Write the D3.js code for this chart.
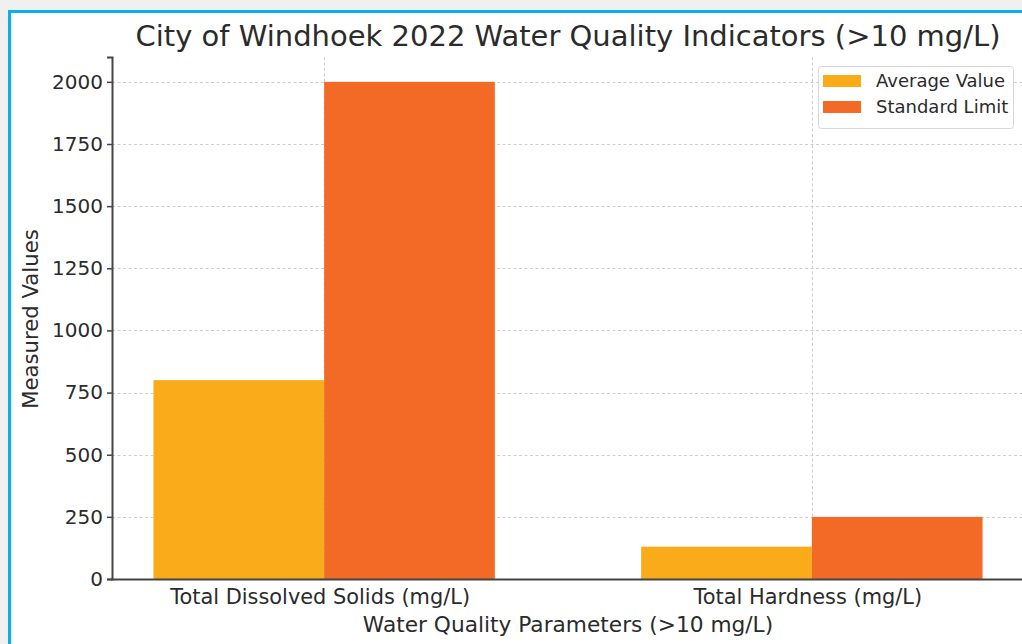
<!DOCTYPE html>
<html>
<head>
<meta charset="utf-8">
<script src="https://cdn.jsdelivr.net/npm/d3@7"></script>
<style>
  html, body { margin: 0; padding: 0; background: #f0f0f0; }
  svg { display: block; font-family: "DejaVu Sans", sans-serif; }
</style>
</head>
<body>
<svg id="chart" width="1022" height="644"></svg>
<script>
// 数据
const categories = ['Total Dissolved Solids (mg/L)', 'Total Hardness (mg/L)'];
const seriesNames = ['Average Value', 'Standard Limit'];
const averageValues = [800, 130];
const standardLimits = [2000, 250];
const yTicks = [0, 250, 500, 750, 1000, 1250, 1500, 1750, 2000];
const colors = ['#f9ab1a', '#f26a25'];

const W = 1022, H = 644;
const svg = d3.select('#chart');

// 外框（截图边框）
svg.append('rect').attr('x', 9.5).attr('y', 11.5).attr('width', W + 20).attr('height', H + 20)
  .attr('fill', '#fff').attr('stroke', '#0aaeee').attr('stroke-width', 3);

const barW = 0.35;
const x = d3.scaleLinear().domain([-0.435, 1.435]).range([112, 1024]);
const y = d3.scaleLinear().domain([0, 2100]).range([579, 57]);

// 网格
const grid = svg.append('g').attr('stroke', '#cfcfcf').attr('stroke-width', 1).attr('stroke-dasharray', '3,2.5');
grid.selectAll('line.h').data(yTicks).enter().append('line')
  .attr('x1', x.range()[0]).attr('x2', x.range()[1])
  .attr('y1', (d) => Math.round(y(d)) + 0.5).attr('y2', (d) => Math.round(y(d)) + 0.5);
grid.selectAll('line.v').data(categories).enter().append('line')
  .attr('x1', (_, i) => Math.round(x(i)) + 0.5).attr('x2', (_, i) => Math.round(x(i)) + 0.5)
  .attr('y1', y.range()[1]).attr('y2', y.range()[0]);

// 柱
const series = [averageValues, standardLimits];
series.forEach((vals, s) => {
  svg.append('g').selectAll('rect').data(vals).enter().append('rect')
    .attr('x', (_, i) => x(i + (s === 0 ? -barW : 0)))
    .attr('width', x(barW) - x(0))
    .attr('y', (d) => y(d))
    .attr('height', (d) => y(0) - y(d))
    .attr('fill', colors[s]);
});

// y 轴
const yAxis = svg.append('g').attr('transform', 'translate(112,0)')
  .call(d3.axisLeft(y).tickValues(yTicks).tickSize(5).tickPadding(4).tickFormat(d3.format('d')));
yAxis.select('.domain').attr('stroke', '#444').attr('stroke-width', 2);
yAxis.selectAll('.tick line').attr('stroke', '#444').attr('stroke-width', 1.5);
yAxis.selectAll('text').attr('font-size', 20).attr('fill', '#2b2b2b').attr('font-family', 'DejaVu Sans');

// x 轴
svg.append('line').attr('x1', 111).attr('x2', 1024).attr('y1', 579.5).attr('y2', 579.5)
  .attr('stroke', '#444').attr('stroke-width', 2);
svg.selectAll('text.xt').data(categories).enter().append('text')
  .attr('class', 'xt').attr('x', (_, i) => x(i) - 4).attr('y', 604)
  .attr('text-anchor', 'middle').attr('font-size', 20.9).attr('fill', '#2b2b2b')
  .text((d) => d);

// 轴标题
svg.append('text').attr('x', 568).attr('y', 632).attr('text-anchor', 'middle')
  .attr('font-size', 21.7).attr('fill', '#2b2b2b').text('Water Quality Parameters (>10 mg/L)');
svg.append('text').attr('transform', 'translate(38,319) rotate(-90)').attr('text-anchor', 'middle')
  .attr('font-size', 21.2).attr('fill', '#2b2b2b').text('Measured Values');

// 标题
svg.append('text').attr('x', 568).attr('y', 46).attr('text-anchor', 'middle')
  .attr('font-size', 29).attr('fill', '#2b2b2b').text('City of Windhoek 2022 Water Quality Indicators (>10 mg/L)');

// 图例
const legend = svg.append('g').attr('transform', 'translate(818,66)');
legend.append('rect').attr('x', 0.5).attr('y', 0.5).attr('width', 195).attr('height', 62).attr('rx', 3)
  .attr('fill', '#fff').attr('fill-opacity', 0.85).attr('stroke', '#d8d8d8');
seriesNames.forEach((name, i) => {
  const row = legend.append('g').attr('transform', `translate(5,${9 + i * 26})`);
  row.append('rect').attr('width', 38).attr('height', 12).attr('fill', colors[i]);
  row.append('text').attr('x', 53).attr('y', 6).attr('dy', '0.35em')
    .attr('font-size', 18).attr('fill', '#2b2b2b').text(name);
});
</script>
</body>
</html>
